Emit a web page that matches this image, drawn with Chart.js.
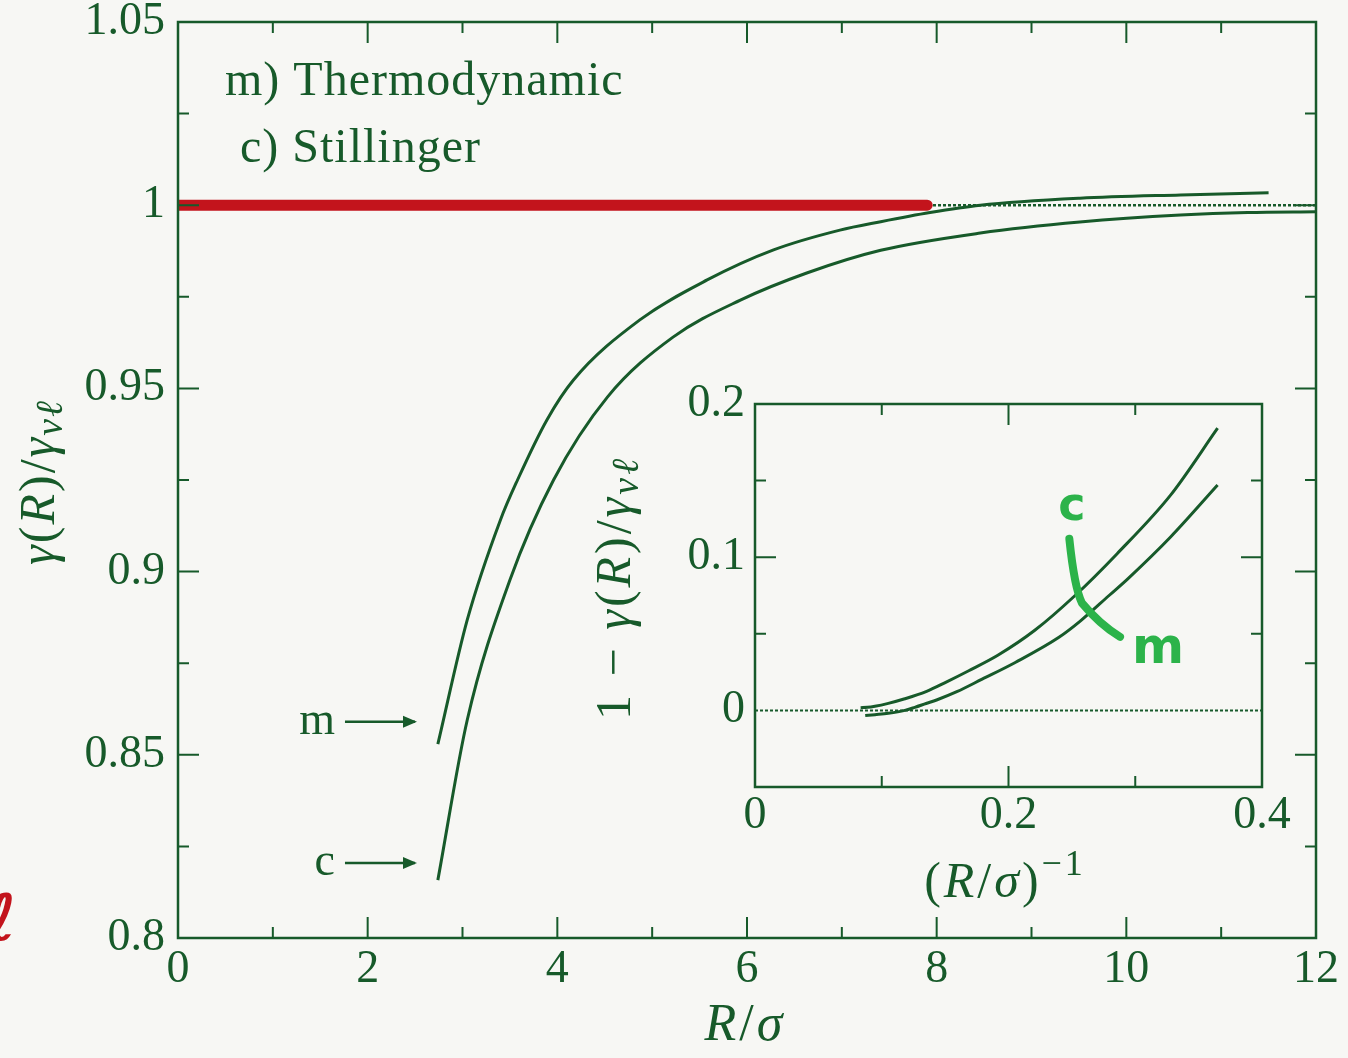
<!DOCTYPE html>
<html>
<head>
<meta charset="utf-8">
<script src="https://cdn.jsdelivr.net/npm/chart.js@4.4.1/dist/chart.umd.min.js"></script>
<style>
  html, body { margin: 0; padding: 0; background: #f7f7f4; }
  #wrap { position: relative; width: 1348px; height: 1058px; overflow: hidden; }
  #main { position: absolute; left: 0; top: 0; }
  #inset { position: absolute; left: 560px; top: 360px; }
</style>
</head>
<body>
<div id="wrap">
  <canvas id="main" width="1348" height="1058"></canvas>
  <canvas id="inset" width="780" height="560"></canvas>
</div>
<script>
// main panel: gamma(R)/gamma_vl against R/sigma
const thermoR = [2.74, 3.05, 3.40, 3.58, 3.89, 4.17, 4.87, 5.58, 6.28, 6.98, 7.41, 7.93, 8.46, 9.51, 10.57, 11.5];
const thermoGamma = [0.8529, 0.8868, 0.9141, 0.9250, 0.9414, 0.9523, 0.9687, 0.9796, 0.9878, 0.9932, 0.9955, 0.9980, 1.0000, 1.0019, 1.0028, 1.0034];
const stillR = [2.74, 3.05, 3.50, 3.96, 4.53, 5.22, 5.93, 6.63, 7.41, 8.46, 9.51, 10.57, 11.28, 12.0];
const stillGamma = [0.8158, 0.8595, 0.8977, 0.9250, 0.9477, 0.9640, 0.9741, 0.9815, 0.9877, 0.9924, 0.9954, 0.9973, 0.9980, 0.9982];
const unityR = [0, 12];
const unityGamma = [1, 1];
const highlightR = [0, 7.9];
const highlightGamma = [1, 1];

const mainXTicks = [0, 2, 4, 6, 8, 10, 12];
const mainXMinor = [1, 3, 5, 7, 9, 11];
const mainYTicks = [0.8, 0.85, 0.9, 0.95, 1, 1.05];
const mainYMinor = [0.825, 0.875, 0.925, 0.975, 1.025];

// inset: 1 - gamma/gamma_vl against (R/sigma)^-1
const insetXTicks = [0, 0.2, 0.4];
const insetXMinor = [0.1, 0.3];
const insetYTicks = [0, 0.1, 0.2];
const insetYMinor = [0.05, 0.15];

const INK = '#175a2a';
const RED = '#c3141c';
const MARKER = '#2cb34a';
const SERIF = '"Liberation Serif", "DejaVu Serif", serif';

function pts(xs, ys) {
    return xs.map((x, i) => ({ x: x, y: ys[i] }));
}

function invPts(xs, ys) {
    return xs.map((x, i) => ({ x: 1 / x, y: 1 - ys[i] }));
}

function curve(data, extra) {
    return Object.assign({
        data: data,
        showLine: true,
        borderColor: INK,
        borderWidth: 3,
        pointRadius: 0,
        cubicInterpolationMode: 'monotone',
        fill: false
    }, extra || {});
}

// text made of pieces: [text, font, dy]
function drawRich(ctx, parts, x, y, align, spacing) {
    ctx.letterSpacing = (spacing || 0) + 'px';
    let total = 0;
    parts.forEach(p => { ctx.font = p[1]; total += ctx.measureText(p[0]).width; });
    let cx = align === 'center' ? x - total / 2 : (align === 'right' ? x - total : x);
    ctx.textAlign = 'left';
    ctx.textBaseline = 'alphabetic';
    parts.forEach(p => {
        ctx.font = p[1];
        ctx.fillText(p[0], cx, y + (p[2] || 0));
        cx += ctx.measureText(p[0]).width;
    });
    ctx.letterSpacing = '0px';
}

function drawFrameTicks(chart, spec) {
    const { ctx, chartArea: a } = chart;
    const x = chart.scales.x, y = chart.scales.y;
    ctx.save();
    ctx.strokeStyle = INK;
    ctx.lineWidth = 2.5;
    ctx.strokeRect(a.left, a.top, a.right - a.left, a.bottom - a.top);
    ctx.lineWidth = 2;
    ctx.beginPath();
    const vt = (vals, len) => vals.forEach(v => {
        const px = x.getPixelForValue(v);
        ctx.moveTo(px, a.bottom); ctx.lineTo(px, a.bottom - len);
        ctx.moveTo(px, a.top); ctx.lineTo(px, a.top + len);
    });
    const ht = (vals, len) => vals.forEach(v => {
        const py = y.getPixelForValue(v);
        ctx.moveTo(a.left, py); ctx.lineTo(a.left + len, py);
        ctx.moveTo(a.right, py); ctx.lineTo(a.right - len, py);
    });
    vt(spec.xMajor, spec.major);
    vt(spec.xMinor, spec.minor);
    ht(spec.yMajor, spec.major);
    ht(spec.yMinor, spec.minor);
    ctx.stroke();
    ctx.restore();
}

function axisOptions(min, max, ticks, pad, size) {
    return {
        type: 'linear',
        min: min,
        max: max,
        grid: { display: false, drawTicks: false },
        border: { display: false },
        afterBuildTicks: s => { s.ticks = ticks.map(v => ({ value: v })); },
        afterFit: s => {
            if (s.isHorizontal()) { s.height = size; s.paddingLeft = 0; s.paddingRight = 0; }
            else { s.width = size; s.paddingTop = 0; s.paddingBottom = 0; }
        },
        ticks: {
            color: INK,
            padding: pad,
            font: { family: SERIF, size: 46 },
            callback: v => String(Math.round(v * 1000) / 1000)
        }
    };
}

const mainPlugin = {
    id: 'mainDecor',
    afterDraw(chart) {
        const ctx = chart.ctx;
        const x = chart.scales.x, y = chart.scales.y;
        drawFrameTicks(chart, {
            xMajor: mainXTicks.slice(1, -1), xMinor: mainXMinor,
            yMajor: mainYTicks.slice(1, -1), yMinor: mainYMinor,
            major: 21, minor: 11
        });
        ctx.save();
        ctx.fillStyle = INK;
        drawRich(ctx, [['m) Thermodynamic', '48px ' + SERIF]], 225, 95, 'left', 1);
        drawRich(ctx, [['c) Stillinger', '48px ' + SERIF]], 240, 162, 'left', 1);

        // curve pointers
        const arrows = [['m', 0.859], ['c', 0.8205]];
        ctx.lineWidth = 2.5;
        ctx.strokeStyle = INK;
        arrows.forEach(a => {
            const tip = x.getPixelForValue(2.52);
            const py = y.getPixelForValue(a[1]);
            ctx.font = '46px ' + SERIF;
            ctx.textAlign = 'right';
            ctx.fillText(a[0], tip - 82, py + 12);
            ctx.beginPath();
            ctx.moveTo(tip - 72, py); ctx.lineTo(tip - 2, py);
            ctx.stroke();
            ctx.beginPath();
            ctx.moveTo(tip, py); ctx.lineTo(tip - 14, py - 6); ctx.lineTo(tip - 14, py + 6); ctx.closePath();
            ctx.fill();
        });

        // axis titles
        const it = 'italic 50px ' + SERIF, up = '50px ' + SERIF, sub = 'italic 38px ' + SERIF;
        drawRich(ctx, [['R', 'italic 52px ' + SERIF], ['/', '52px ' + SERIF], ['σ', 'italic 52px ' + SERIF]], 745, 1040, 'center', 3);
        ctx.save();
        ctx.translate(54, 482);
        ctx.rotate(-Math.PI / 2);
        drawRich(ctx, [['γ', it], ['(', up], ['R', it], [')/', up], ['γ', it], ['vℓ', sub, 8]], 0, 0, 'center', 2);
        ctx.restore();

        // red hand mark at the left edge
        ctx.fillStyle = RED;
        ctx.font = 'bold italic 64px "DejaVu Sans", sans-serif';
        ctx.textAlign = 'left';
        ctx.fillText('ℓ', -14, 940);
        ctx.restore();
    }
};

const insetPlugin = {
    id: 'insetDecor',
    afterDraw(chart) {
        const ctx = chart.ctx;
        const x = chart.scales.x, y = chart.scales.y;
        drawFrameTicks(chart, {
            xMajor: [0.2], xMinor: insetXMinor,
            yMajor: [0.1], yMinor: insetYMinor,
            major: 21, minor: 11
        });
        ctx.save();
        ctx.fillStyle = INK;
        const it = 'italic 50px ' + SERIF, up = '50px ' + SERIF, sub = 'italic 38px ' + SERIF;
        drawRich(ctx, [['(', up], ['R', it], ['/', up], ['σ', it], [')', up], ['−1', '36px ' + SERIF, -22]], 445, 537, 'center', 3);
        ctx.save();
        ctx.translate(70, 228);
        ctx.rotate(-Math.PI / 2);
        drawRich(ctx, [['1 − ', up], ['γ', it], ['(', up], ['R', it], [')/', up], ['γ', it], ['vℓ', sub, 8]], 0, 0, 'center', 3);
        ctx.restore();

        // green hand annotation
        ctx.strokeStyle = MARKER;
        ctx.fillStyle = MARKER;
        ctx.lineWidth = 8;
        ctx.lineCap = 'round';
        ctx.beginPath();
        ctx.moveTo(x.getPixelForValue(0.248), y.getPixelForValue(0.112));
        ctx.quadraticCurveTo(x.getPixelForValue(0.252), y.getPixelForValue(0.080),
            x.getPixelForValue(0.258), y.getPixelForValue(0.070));
        ctx.quadraticCurveTo(x.getPixelForValue(0.272), y.getPixelForValue(0.056),
            x.getPixelForValue(0.288), y.getPixelForValue(0.048));
        ctx.stroke();
        ctx.font = 'bold 46px "DejaVu Sans", sans-serif';
        ctx.textAlign = 'center';
        ctx.fillText('c', x.getPixelForValue(0.250), y.getPixelForValue(0.124));
        ctx.font = 'bold 50px "DejaVu Sans", sans-serif';
        ctx.fillText('m', x.getPixelForValue(0.318), y.getPixelForValue(0.031));
        ctx.restore();
    }
};

new Chart(document.getElementById('main'), {
    type: 'scatter',
    data: {
        datasets: [
            curve(pts(highlightR, highlightGamma), { borderColor: RED, borderWidth: 11, cubicInterpolationMode: 'default', borderCapStyle: 'round' }),
            curve(pts(unityR, unityGamma), { borderWidth: 2.5, borderDash: [3, 2] }),
            curve(pts(thermoR, thermoGamma)),
            curve(pts(stillR, stillGamma))
        ]
    },
    options: {
        responsive: false,
        animation: false,
        layout: { padding: { top: 22, right: 32, left: 0, bottom: 0 } },
        plugins: { legend: { display: false }, tooltip: { enabled: false } },
        scales: {
            x: axisOptions(0, 12, mainXTicks, 4, 120),
            y: axisOptions(0.8, 1.05, mainYTicks, 13, 178)
        }
    },
    plugins: [mainPlugin]
});

new Chart(document.getElementById('inset'), {
    type: 'scatter',
    data: {
        datasets: [
            curve([{ x: 0, y: 0 }, { x: 0.4, y: 0 }], { borderWidth: 2, borderDash: [3, 2] }),
            curve(invPts(thermoR, thermoGamma)),
            curve(invPts(stillR, stillGamma))
        ]
    },
    options: {
        responsive: false,
        animation: false,
        layout: { padding: { top: 44, right: 78, left: 0, bottom: 0 } },
        plugins: { legend: { display: false }, tooltip: { enabled: false } },
        scales: {
            x: axisOptions(0, 0.4, insetXTicks, 1, 133),
            y: axisOptions(-0.05, 0.2, insetYTicks, 10, 195)
        }
    },
    plugins: [insetPlugin]
});
</script>
</body>
</html>
